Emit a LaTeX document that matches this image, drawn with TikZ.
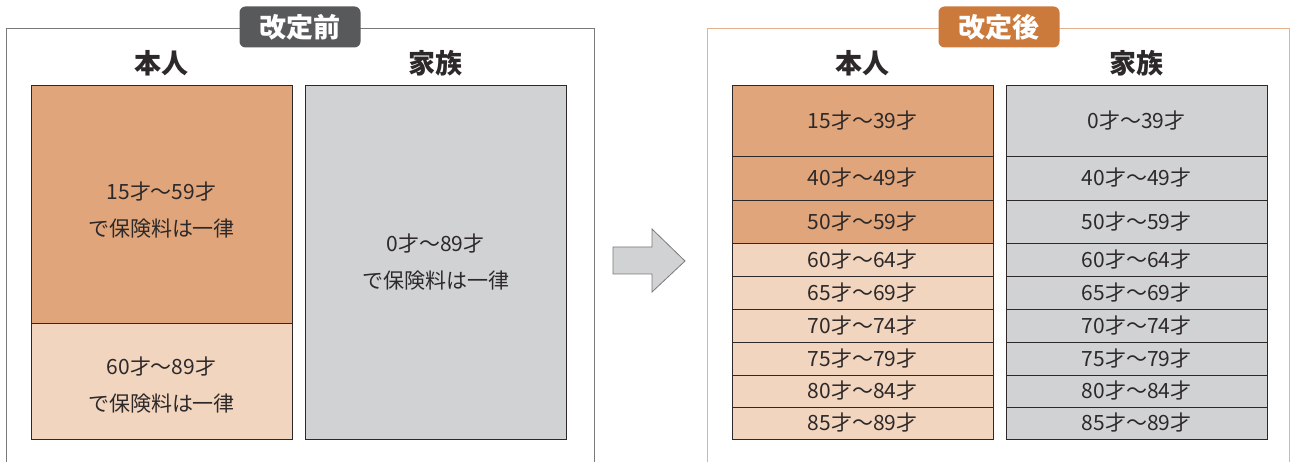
\documentclass[tikz,border=0pt]{standalone}
\usepackage{fontspec}
\setmainfont{Noto Sans CJK JP}
\usetikzlibrary{positioning}

\begin{document}
\begin{tikzpicture}[x=1pt, y=-1pt, every node/.style={inner sep=0, outer sep=0}, font=\fontsize{21}{37}\selectfont]
        % Colors
        \definecolor{dark}{RGB}{88,89,91}
        \definecolor{rust}{RGB}{204,122,60}
        \definecolor{tan}{RGB}{224,165,122}
        \definecolor{peach}{RGB}{242,213,190}
        \definecolor{silver}{RGB}{209,210,212}
        \definecolor{ink}{RGB}{45,41,42}
        \definecolor{edgegray}{RGB}{120,121,123}
        \definecolor{edgeor}{RGB}{228,178,142}

        \tikzset{
          cell/.style={draw=ink, line width=0.9pt, text=ink, align=center, minimum width=261pt, anchor=north west},
          note/.style={text=ink, align=center},
          tag/.style={rounded corners=6pt, text=white, font=\fontsize{27}{30}\selectfont\bfseries, minimum width=121pt, minimum height=41pt},
          head/.style={text=ink, font=\fontsize{27}{30}\selectfont\bfseries}
        }

        \useasboundingbox (0,0) rectangle (1294,462);

        % Before
        \draw[edgegray, line width=0.8pt] (6,462) |- (594,28) -- (594,462);
        \node[tag, fill=dark] (before) at (300,27) {改定前};

        \node[cell, fill=tan, minimum height=238pt] (self_a) at (31,85) {};
        \node[cell, fill=peach, minimum height=116pt, below=0pt of self_a] (self_b) {};
        \node[cell, fill=silver, minimum height=354pt] (fam_all) at (305,85) {0才～89才\\で保険料は一律};

        \node[note, below=6pt of self_a.center, anchor=center] (self_a_txt) {15才～59才\\で保険料は一律};
        \node[note, below=4pt of self_b.center, anchor=center] (self_b_txt) {60才～89才\\で保険料は一律};

        \node[head, above=9pt of self_a] (self_head) {本人};
        \node[head, above=9pt of fam_all] (fam_head) {家族};

        % Arrow
        \draw[fill=silver, draw=edgegray, line width=0.8pt] (613,247) -- (652,247) -- (652,229) -- (685,261)
          -- (652,292) -- (652,274) -- (613,274) -- cycle;

        % After
        \draw[edgeor, line width=0.8pt] (707,462) |- (1289,28) -- (1289,462);
        \node[tag, fill=rust] (after) at (999,27) {改定後};

        \node[cell, fill=tan, minimum height=71pt] (s1) at (732,85) {15才～39才};
        \node[cell, fill=tan, minimum height=44pt, below=0pt of s1] (s2) {40才～49才};
        \node[cell, fill=tan, minimum height=43pt, below=0pt of s2] (s3) {50才～59才};
        \node[cell, fill=peach, minimum height=33pt, below=0pt of s3] (s4) {60才～64才};
        \node[cell, fill=peach, minimum height=33pt, below=0pt of s4] (s5) {65才～69才};
        \node[cell, fill=peach, minimum height=33pt, below=0pt of s5] (s6) {70才～74才};
        \node[cell, fill=peach, minimum height=33pt, below=0pt of s6] (s7) {75才～79才};
        \node[cell, fill=peach, minimum height=32pt, below=0pt of s7] (s8) {80才～84才};
        \node[cell, fill=peach, minimum height=32pt, below=0pt of s8] (s9) {85才～89才};

        \node[cell, fill=silver, minimum height=71pt] (f1) at (1006,85) {0才～39才};
        \node[cell, fill=silver, minimum height=44pt, below=0pt of f1] (f2) {40才～49才};
        \node[cell, fill=silver, minimum height=43pt, below=0pt of f2] (f3) {50才～59才};
        \node[cell, fill=silver, minimum height=33pt, below=0pt of f3] (f4) {60才～64才};
        \node[cell, fill=silver, minimum height=33pt, below=0pt of f4] (f5) {65才～69才};
        \node[cell, fill=silver, minimum height=33pt, below=0pt of f5] (f6) {70才～74才};
        \node[cell, fill=silver, minimum height=33pt, below=0pt of f6] (f7) {75才～79才};
        \node[cell, fill=silver, minimum height=32pt, below=0pt of f7] (f8) {80才～84才};
        \node[cell, fill=silver, minimum height=32pt, below=0pt of f8] (f9) {85才～89才};

        \node[head, above=9pt of s1] (s_head) {本人};
        \node[head, above=9pt of f1] (f_head) {家族};
      \end{tikzpicture}
\end{document}
